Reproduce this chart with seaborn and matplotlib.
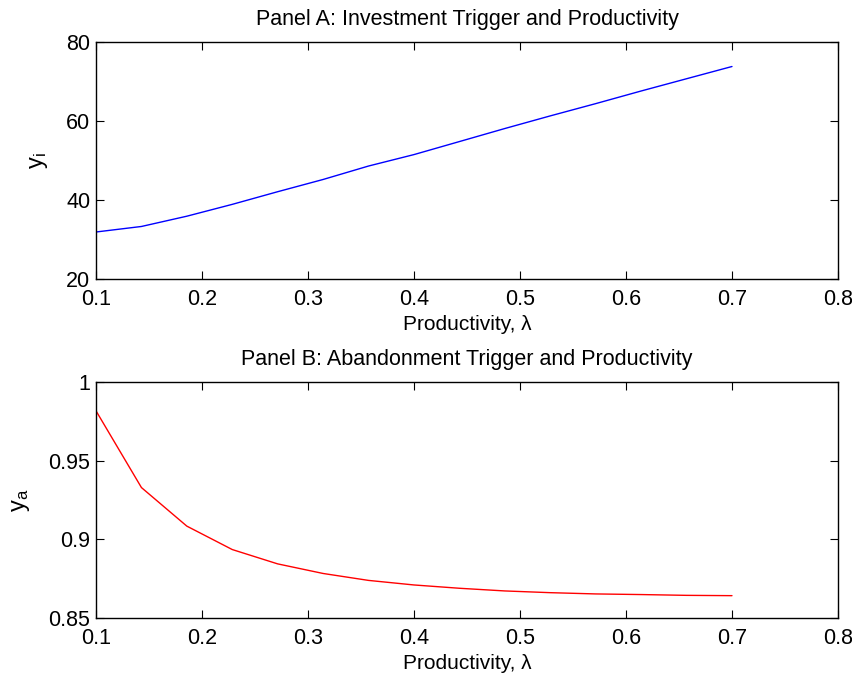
import numpy as np
import pandas as pd
import matplotlib
matplotlib.use("Agg")
import matplotlib.pyplot as plt
import seaborn as sns

# Productivity grid and the two trigger curves
productivity = [0.1, 0.1429, 0.1857, 0.2286, 0.2714, 0.3143, 0.3571, 0.4,
                0.4429, 0.4857, 0.5286, 0.5714, 0.6143, 0.6571, 0.7]
investment_trigger = [31.9, 33.3, 35.9, 38.9, 42.1, 45.2, 48.6, 51.5,
                      54.8, 58.1, 61.3, 64.4, 67.6, 70.7, 73.8]
abandonment_trigger = [0.9817, 0.9329, 0.9084, 0.8935, 0.8844, 0.8783, 0.8739, 0.8710,
                       0.8689, 0.8672, 0.8661, 0.8653, 0.8649, 0.8644, 0.8642]

x_ticks = [0.1, 0.2, 0.3, 0.4, 0.5, 0.6, 0.7, 0.8]
x_tick_labels = ["0.1", "0.2", "0.3", "0.4", "0.5", "0.6", "0.7", "0.8"]
a_ticks = [20, 40, 60, 80]
a_tick_labels = ["20", "40", "60", "80"]
b_ticks = [0.85, 0.9, 0.95, 1.0]
b_tick_labels = ["0.85", "0.9", "0.95", "1"]

df = pd.DataFrame({"lam": productivity, "yi": investment_trigger, "ya": abandonment_trigger})

sns.set_style("ticks")
plt.rcParams["font.family"] = ["Liberation Sans", "DejaVu Sans"]
plt.rcParams["mathtext.fontset"] = "custom"
plt.rcParams["mathtext.rm"] = "Liberation Sans"
plt.rcParams["mathtext.it"] = "Liberation Sans"
plt.rcParams["text.color"] = "black"
plt.rcParams["axes.labelcolor"] = "black"

fig = plt.figure(figsize=(8.53, 6.81), dpi=100)
ax1 = fig.add_axes([0.1125, 0.5903, 0.8699, 0.3480])
ax2 = fig.add_axes([0.1125, 0.0925, 0.8699, 0.3466])

sns.lineplot(data=df, x="lam", y="yi", ax=ax1, color="#0000ff", linewidth=1.0)
sns.lineplot(data=df, x="lam", y="ya", ax=ax2, color="#ff0000", linewidth=1.0)

panels = [
    (ax1, "Panel A: Investment Trigger and Productivity", r"y$_\mathregular{i}$",
     (20, 80), a_ticks, a_tick_labels),
    (ax2, "Panel B: Abandonment Trigger and Productivity", r"y$_\mathregular{a}$",
     (0.85, 1.0), b_ticks, b_tick_labels),
]
for ax, title, ylab, ylim, yt, ytl in panels:
    ax.set_xlim(0.1, 0.8)
    ax.set_ylim(*ylim)
    ax.set_xticks(x_ticks)
    ax.set_xticklabels(x_tick_labels)
    ax.set_yticks(yt)
    ax.set_yticklabels(ytl)
    ax.set_title(title, fontsize=15.5, pad=12.5, color="black")
    ax.set_xlabel("Productivity, λ", fontsize=15, labelpad=4, color="black")
    ax.set_ylabel(ylab, fontsize=17, labelpad=12, color="black")
    for s in ax.spines.values():
        s.set_visible(True)
        s.set_linewidth(1.0)
        s.set_color("black")
    ax.tick_params(axis="both", direction="in", length=6, width=0.8,
                   top=True, right=True, labelsize=15.5, colors="black")
    ax.tick_params(axis="x", pad=7)
    ax.tick_params(axis="y", pad=4)

fig.savefig("out.png", dpi=100, facecolor="white")
